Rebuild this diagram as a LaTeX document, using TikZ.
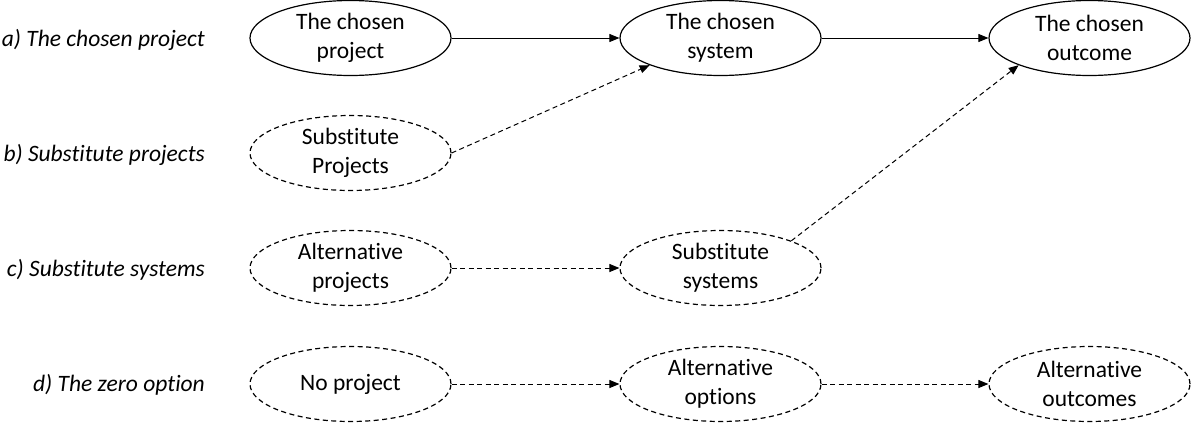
\documentclass[tikz,border=0pt]{standalone}
\usepackage{fontspec}
\setmainfont[RawFeature={-liga;-clig;-calt;-dlig}]{Carlito}
\usetikzlibrary{shapes.geometric,arrows.meta}
\tikzset{
  oval/.style={ellipse, draw, line width=1.2pt, minimum width=201pt, minimum height=75pt, inner sep=0pt, align=center, font=\fontsize{23.5}{29}\selectfont},
  dashoval/.style={oval, dash pattern=on 5pt off 3.5pt},
  rowlabel/.style={anchor=east, inner sep=0pt, font=\fontsize{23.5}{29}\selectfont\itshape},
  conn/.style={line width=1pt, -{Triangle[length=10pt,width=8pt]}},
  dconn/.style={conn, dash pattern=on 5pt off 3.5pt},
}
\begin{document}
\begin{tikzpicture}[x=1pt,y=-1pt]
\useasboundingbox (0,0) rectangle (1193,423);
% row labels
\node[rowlabel] (la) at (205,40) {a) The chosen project};
\node[rowlabel] (lb) at (205,155) {b) Substitute projects};
\node[rowlabel] (lc) at (205,270) {c) Substitute systems};
\node[rowlabel] (ld) at (205,385) {d) The zero option};
% row a
\node[oval] (a1) at (350.5,38) {The chosen\\project};
\node[oval] (a2) at (720.5,38) {The chosen\\system};
\node[oval] (a3) at (1089.5,38) {The chosen\\outcome};
% row b
\node[dashoval] (b1) at (350.5,153) {Substitute\\Projects};
% row c
\node[dashoval] (c1) at (350.5,268) {Alternative\\projects};
\node[dashoval] (c2) at (720.5,268) {Substitute\\systems};
% row d
\node[dashoval] (d1) at (350.5,384) {No project};
\node[dashoval] (d2) at (720.5,384) {Alternative\\options};
\node[dashoval] (d3) at (1089.5,384) {Alternative\\outcomes};
% connectors
\draw[conn] (a1.east) -- (a2.west);
\draw[conn] (a2.east) -- (a3.west);
\draw[dconn] (b1.east) -- (a2.201);
\draw[dconn] (c1.east) -- (c2.west);
\draw[dconn] (c2.21) -- (a3.201);
\draw[dconn] (d1.east) -- (d2.west);
\draw[dconn] (d2.east) -- (d3.west);
\end{tikzpicture}
\end{document}
